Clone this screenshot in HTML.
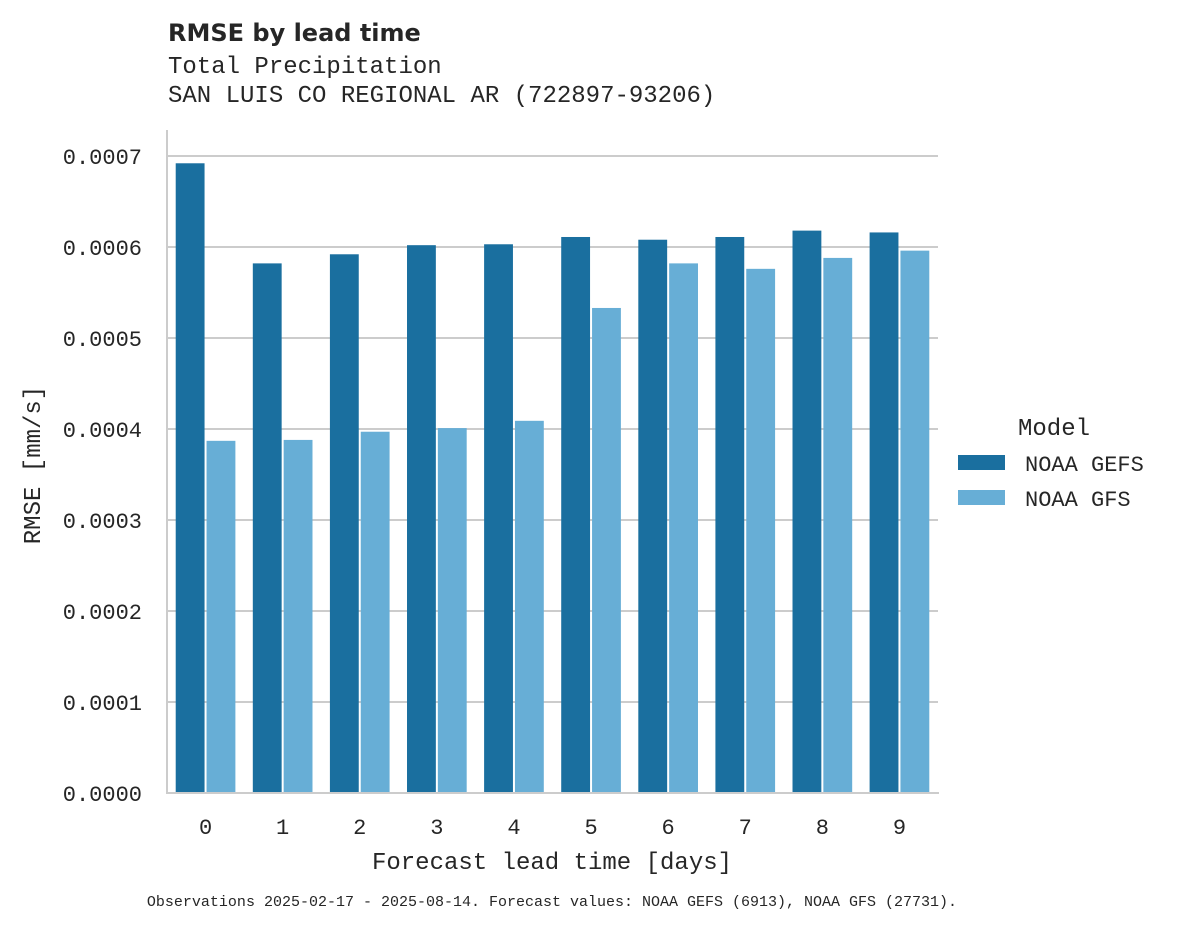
<!DOCTYPE html>
<html><head><meta charset="utf-8"><style>
html,body{margin:0;padding:0;background:#fff;width:1178px;height:928px;overflow:hidden}
svg text{font-family:"Liberation Mono","DejaVu Sans Mono",monospace;fill:#262626}
</style></head><body>
<svg id="chart" width="1178" height="928" viewBox="0 0 1178 928" xmlns="http://www.w3.org/2000/svg">
<text x="168" y="41" style="font-family:'DejaVu Sans','Liberation Sans',sans-serif;font-weight:bold;font-size:24px">RMSE by lead time</text>
<text x="168" y="73" font-size="24">Total Precipitation</text>
<text x="168" y="102" font-size="24">SAN LUIS CO REGIONAL AR (722897-93206)</text>
<g id="grid"></g>
<g id="bars"></g>
<line x1="167" y1="130" x2="167" y2="794" stroke="#ccc" stroke-width="2"/>
<line x1="167" y1="793" x2="939" y2="793" stroke="#ccc" stroke-width="2"/>
<g id="yticks"></g>
<g id="xticks"></g>
<text x="40" y="465" font-size="24" text-anchor="middle" transform="rotate(-90 40 465)">RMSE [mm/s]</text>
<text x="552" y="869" font-size="24" text-anchor="middle">Forecast lead time [days]</text>
<g>
<text x="1018" y="435" font-size="24">Model</text>
<rect x="958" y="455" width="47" height="15" fill="#1a6f9f"/>
<text x="1025" y="471" font-size="22">NOAA GEFS</text>
<rect x="958" y="490" width="47" height="15" fill="#67aed6"/>
<text x="1025" y="506" font-size="22">NOAA GFS</text>
</g>
<text x="552" y="906" font-size="15" text-anchor="middle">Observations 2025-02-17 - 2025-08-14. Forecast values: NOAA GEFS (6913), NOAA GFS (27731).</text>
</svg>
<script>
const categories=["0","1","2","3","4","5","6","7","8","9"];
const gefsValues=[0.000692,0.000582,0.000592,0.000602,0.000603,0.000611,0.000608,0.000611,0.000618,0.000616];
const gfsValues=[0.000387,0.000388,0.000397,0.000401,0.000409,0.000533,0.000582,0.000576,0.000588,0.000596];
const yTicks=[0,0.0001,0.0002,0.0003,0.0004,0.0005,0.0006,0.0007];
const NS="http://www.w3.org/2000/svg";
const x0=167,x1=938,y0=793,yTop=156,yMaxVal=0.0007;
const yScale=v=>y0-(v/yMaxVal)*(y0-yTop);
const band=(x1-x0)/categories.length;
const xBand=i=>x0+i*band;
function mk(tag,attrs){const e=document.createElementNS(NS,tag);for(const k in attrs)e.setAttribute(k,attrs[k]);return e;}
const grid=document.getElementById('grid'),yt=document.getElementById('yticks'),xt=document.getElementById('xticks'),bars=document.getElementById('bars');
yTicks.forEach(t=>{const y=yScale(t);
 const l=mk('line',{x1:x0,x2:x1,y1:y,y2:y,stroke:'#cccccc','stroke-width':2});
 
 
 grid.appendChild(l);
 const tx=mk('text',{x:142,y:y+8,'font-size':22,'text-anchor':'end'});tx.textContent=t.toFixed(4);
 
 
 yt.appendChild(tx);});
categories.forEach((c,i)=>{const bx=xBand(i);const pad=band*0.1,w=(band-2*pad)/2;
 [[gefsValues[i],'#1a6f9f','bar-gefs-'+c,0],[gfsValues[i],'#67aed6','bar-gfs-'+c,1]].forEach(([v,col,name,k])=>{
  const r=mk('rect',{x:bx+pad+k*w+1,y:yScale(v),width:w-2,height:y0-yScale(v),fill:col});
  
  
  bars.appendChild(r);});
 const tx=mk('text',{x:bx+band/2,y:834,'font-size':22,'text-anchor':'middle'});tx.textContent=c;
 
 
 xt.appendChild(tx);});
</script>
</body></html>
